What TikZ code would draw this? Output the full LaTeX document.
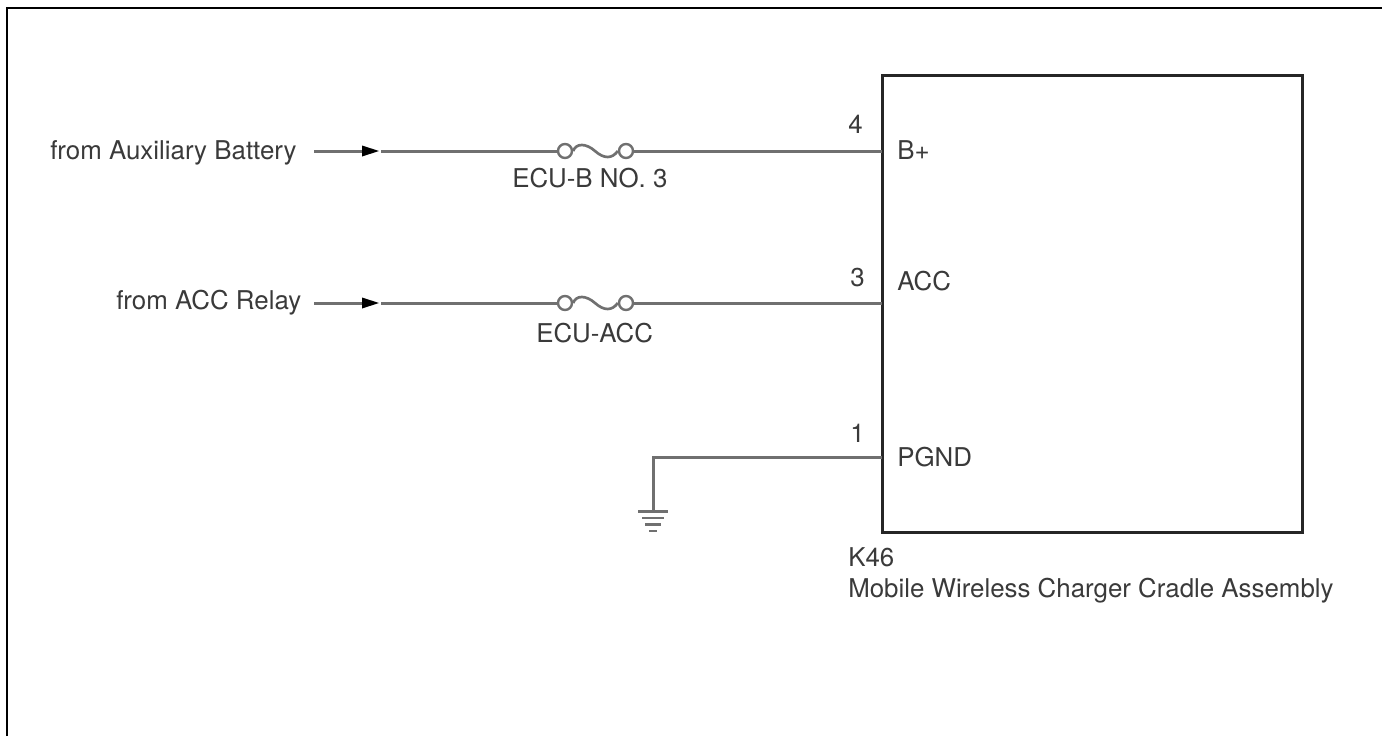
\documentclass[tikz,border=0pt]{standalone}
\usepackage{fontspec}
\setmainfont{TeX Gyre Heros}
\definecolor{ink}{HTML}{3A3A3A}
\definecolor{wire}{HTML}{707070}
\definecolor{boxink}{HTML}{262626}
\tikzset{
  px/.style={x=0.75pt,y=-0.75pt},
  lbl/.style={inner sep=0pt,text=ink,font=\fontsize{19.4pt}{21pt}\selectfont,anchor=base west,yshift=-0.5pt},
  wireline/.style={draw=wire,line width=2.25pt},
  term/.style={circle,draw=wire,line width=1.8pt,fill=white,minimum size=10.5pt,inner sep=0pt},
  arrowtip/.style={fill=black,draw=none},
  box/.style={draw=boxink,line width=2.25pt},
}
\begin{document}
\begin{tikzpicture}[px]
\useasboundingbox (0,0) rectangle (1382,736);
\draw[black,line width=2.2pt] (7,736) -- (7,8) -- (1382,8);
\coordinate (boxtl) at (882,75);
\coordinate (boxbr) at (1302,532);
\draw[box] (boxtl) rectangle (boxbr);
\coordinate (pinB) at (882,151);
\coordinate (pinA) at (882,303);
\coordinate (pinG) at (882,457);
\coordinate (s1) at (314,151);
\coordinate (s2) at (314,303);
\coordinate (a1) at (372,151);
\coordinate (a2) at (372,303);
\coordinate (b1) at (381,151);
\coordinate (b2) at (381,303);
\node[term] (f1a) at (565,151) {};
\node[term] (f1b) at (626,151) {};
\node[term] (f2a) at (565,303) {};
\node[term] (f2b) at (626,303) {};
\draw[wireline] (s1) -- (a1);
\draw[wireline] (b1) -- (f1a);
\draw[wireline] (f1b) -- (pinB);
\draw[wireline] (s2) -- (a2);
\draw[wireline] (b2) -- (f2a);
\draw[wireline] (f2b) -- (pinA);
\foreach \a/\b/\y in {f1a/f1b/151,f2a/f2b/303}{
  \draw[draw=wire,line width=2pt] (\a.east) .. controls (576,\y-8) and (586,\y-8) .. (595,\y) .. controls (604,\y+8) and (612,\y+8) .. (\b.west);
  \fill[arrowtip] (362,\y-5.5) -- (379,\y) -- (362,\y+5.5) -- cycle;
}
\coordinate (gtop) at (653,457);
\coordinate (g0) at (653,511);
\draw[wireline] (pinG) -- (gtop) -- (g0);
\draw[draw=wire,line width=2.2pt] (638,511.5) -- (668,511.5) (642,518) -- (664,518) (645,524.5) -- (661,524.5) (649,531) -- (657,531);
\node[lbl] (t1) at (50,158.5) {from Auxiliary Battery};
\node[lbl] (t2) at (116,309) {from ACC Relay};
\node[lbl] (t3) at (512,187) {ECU-B NO. 3};
\node[lbl] (t4) at (536,342) {ECU-ACC};
\node[lbl] (n4) at (848,133) {4};
\node[lbl] (n3) at (850,286) {3};
\node[lbl] (n1) at (850,442) {1};
\node[lbl] (pb) at (897,159) {B+};
\node[lbl] (pa) at (897,290) {ACC};
\node[lbl] (pg) at (897,466) {PGND};
\node[lbl] (k) at (848,566) {K46};
\node[lbl] (m) at (848,597) {Mobile Wireless Charger Cradle Assembly};
\end{tikzpicture}
\end{document}
